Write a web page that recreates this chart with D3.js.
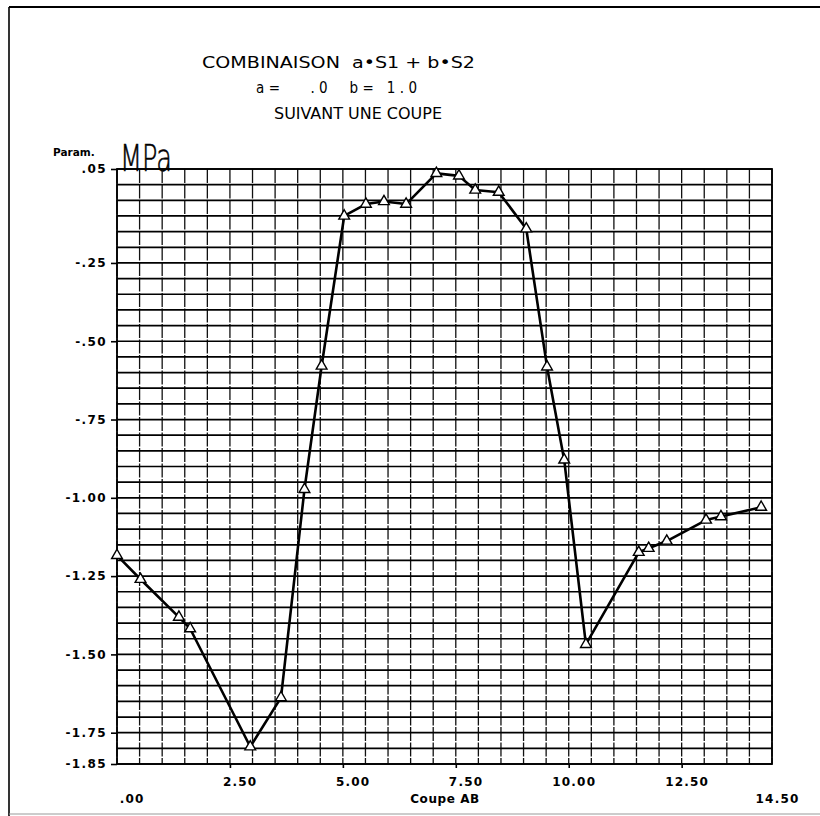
<!DOCTYPE html>
<html>
<head>
<meta charset="utf-8">
<script src="https://cdn.jsdelivr.net/npm/d3@7"></script>
<style>
  html, body { margin: 0; padding: 0; background: #fff; }
  svg { display: block; }
  text.title { white-space: pre; }
</style>
</head>
<body>
<svg id="chart" width="820" height="816"></svg>
<script>
// ---- data ----
const titleLines = ["COMBINAISON  a\u2022S1 + b\u2022S2", "a=   .0  b= 1.0", "SUIVANT UNE COUPE"];
const unitLabel = "MPa";
const yAxisTitle = "Param.";
const xAxisTitle = "Coupe AB";
const xValues = [0, 0.52, 1.37, 1.62, 2.95, 3.63, 4.15, 4.53, 5.03, 5.51, 5.91, 6.40, 7.07, 7.57, 7.93, 8.45, 9.06, 9.52, 9.90, 10.38, 11.55, 11.77, 12.17, 13.04, 13.37, 14.26];
const yValues = [-1.184, -1.260, -1.381, -1.418, -1.795, -1.638, -0.973, -0.579, -0.100, -0.062, -0.054, -0.062, 0.036, 0.028, -0.017, -0.024, -0.141, -0.582, -0.879, -1.468, -1.174, -1.161, -1.138, -1.071, -1.060, -1.030];
const yTickValues = [0.05, -0.25, -0.50, -0.75, -1.00, -1.25, -1.50, -1.75, -1.85];
const yTickLabels = [".05", "-.25", "-.50", "-.75", "-1.00", "-1.25", "-1.50", "-1.75", "-1.85"];
const xTickValues = [2.5, 5, 7.5, 10, 12.5];
const xTickLabels = ["2.50", "5.00", "7.50", "10.00", "12.50"];
const xEndValues = [0, 14.5];
const xEndLabels = [".00", "14.50"];
const xDomain = [0, 14.5];
const yDomain = [0.05, -1.85];
const xGridStep = 0.5;
const yGridStep = 0.05;

// ---- layout ----
const svg = d3.select("#chart");
const L = 117, R = 772, T = 169, B = 764;
const x = d3.scaleLinear().domain(xDomain).range([L, R]);
const y = d3.scaleLinear().domain(yDomain).range([T, B]);

// outer frame
svg.append("line").attr("x1", 9).attr("x2", 820).attr("y1", 7).attr("y2", 7)
  .attr("stroke", "#000").attr("stroke-width", 2);
svg.append("line").attr("x1", 9).attr("x2", 9).attr("y1", 7).attr("y2", 816)
  .attr("stroke", "#000").attr("stroke-width", 1.6);
svg.append("line").attr("x1", 9).attr("x2", 820).attr("y1", 814).attr("y2", 814)
  .attr("stroke", "#999").attr("stroke-width", 1.2);

// title
const titleX = [202, 256, 274];
const titleY = [68, 93, 119];
const titleW = [273, 161, 168];
const titleAdj = ["spacingAndGlyphs", "spacing", "spacingAndGlyphs"];
svg.selectAll("text.title").data(titleLines).join("text")
  .attr("class", "title")
  .attr("x", (d, i) => titleX[i]).attr("y", (d, i) => titleY[i])
  .attr("font-family", "'DejaVu Sans Condensed', 'DejaVu Sans', sans-serif")
  .attr("font-size", 15)
  .attr("textLength", (d, i) => titleW[i]).attr("lengthAdjust", (d, i) => titleAdj[i])
  .attr("fill", "#000").text(d => d);

// handwritten unit
svg.append("text").attr("x", 120).attr("y", 171)
  .attr("font-family", "'DejaVu Sans', sans-serif").attr("font-weight", 300)
  .attr("font-size", 38).attr("textLength", 52).attr("lengthAdjust", "spacingAndGlyphs")
  .attr("fill", "#000").attr("stroke", "#000").attr("stroke-width", 0.6).text(unitLabel);

// y-axis title
svg.append("text").attr("x", 53).attr("y", 156)
  .attr("font-family", "'DejaVu Sans', sans-serif").attr("font-weight", "bold")
  .attr("font-size", 10.5).attr("fill", "#000").text(yAxisTitle);

// grid
const g = svg.append("g");
const vLines = d3.range(xDomain[0], xDomain[1] + 1e-9, xGridStep);
const hLines = d3.range(yDomain[1], yDomain[0] + 1e-9, yGridStep);
g.selectAll("line.v").data(vLines).join("line").attr("class", "v")
  .attr("x1", d => x(d)).attr("x2", d => x(d)).attr("y1", T).attr("y2", B)
  .attr("stroke", "#111").attr("stroke-width", 1.3).attr("stroke-dasharray", "14,1.5");
g.selectAll("line.h").data(hLines).join("line").attr("class", "h")
  .attr("x1", L).attr("x2", R).attr("y1", d => y(d)).attr("y2", d => y(d))
  .attr("stroke", "#000").attr("stroke-width", 1.7);
// frame of plot
g.append("rect").attr("x", L).attr("y", T).attr("width", R - L).attr("height", B - T)
  .attr("fill", "none").attr("stroke", "#000").attr("stroke-width", 1.8);

// y axis
const yAxis = d3.axisLeft(y).tickValues(yTickValues).tickSize(6).tickPadding(5)
  .tickFormat((d, i) => yTickLabels[i]);
const ya = svg.append("g").attr("transform", `translate(${L},0)`).call(yAxis);
ya.select(".domain").remove();
ya.selectAll(".tick line").attr("stroke", "#000").attr("stroke-width", 1.6);
ya.selectAll(".tick text").attr("font-family", "'DejaVu Sans', sans-serif")
  .attr("font-weight", "bold").attr("font-size", 12).attr("letter-spacing", 1.4)
  .attr("fill", "#000").attr("x", -10);

// x axis (upper row of labels)
const xAxis = d3.axisBottom(x).tickValues(xTickValues).tickSize(4)
  .tickFormat((d, i) => xTickLabels[i]);
const xa = svg.append("g").attr("transform", `translate(0,${B})`).call(xAxis);
xa.select(".domain").remove();
xa.selectAll(".tick line").attr("stroke", "#000").attr("stroke-width", 1.6);
xa.selectAll(".tick text").attr("font-family", "'DejaVu Sans', sans-serif")
  .attr("font-weight", "bold").attr("font-size", 12).attr("letter-spacing", 1.2)
  .attr("fill", "#000").attr("text-anchor", "end").attr("x", 27).attr("y", 13).attr("dy", "0.71em");

// x axis (lower row: end labels)
const xAxis2 = d3.axisBottom(x).tickValues(xEndValues).tickSize(0)
  .tickFormat((d, i) => xEndLabels[i]);
const xb = svg.append("g").attr("transform", `translate(0,${B})`).call(xAxis2);
xb.select(".domain").remove();
xb.selectAll(".tick text").attr("font-family", "'DejaVu Sans', sans-serif")
  .attr("font-weight", "bold").attr("font-size", 12).attr("letter-spacing", 1.2)
  .attr("fill", "#000").attr("text-anchor", "end").attr("x", 27).attr("y", 30).attr("dy", "0.71em");

// x axis title
svg.append("text").attr("x", 445).attr("y", 803).attr("text-anchor", "middle")
  .attr("font-family", "'DejaVu Sans', sans-serif").attr("font-weight", "bold")
  .attr("font-size", 12).attr("letter-spacing", 0.6).attr("fill", "#000").text(xAxisTitle);

// data line
const pts = xValues.map((v, i) => [v, yValues[i]]);
const line = d3.line().x(d => x(d[0])).y(d => y(d[1])).curve(d3.curveLinear);
svg.append("path").attr("d", line(pts)).attr("fill", "none")
  .attr("stroke", "#000").attr("stroke-width", 2.6).attr("stroke-linejoin", "round");

// markers
const tri = d3.symbol().type(d3.symbolTriangle).size(50);
svg.selectAll("path.mk").data(pts).join("path").attr("class", "mk")
  .attr("transform", d => `translate(${x(d[0])},${y(d[1])})`)
  .attr("d", tri()).attr("fill", "#fff").attr("stroke", "#000").attr("stroke-width", 1.4);
</script>
</body>
</html>
